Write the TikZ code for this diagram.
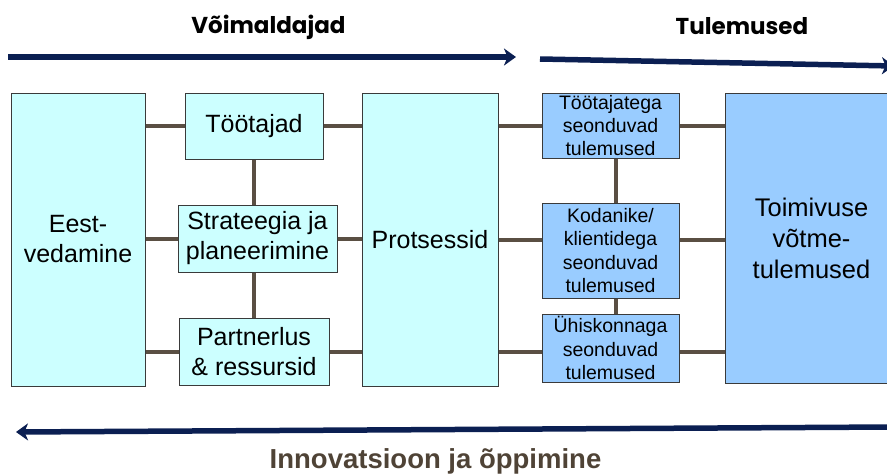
\documentclass[tikz,border=0pt]{standalone}
\usepackage{fontspec}
\setmainfont{Liberation Sans}
\newfontfamily\headfont{Poppins}
\usetikzlibrary{arrows.meta}
\definecolor{navyarrow}{HTML}{0B1F52}
\definecolor{cyanfill}{HTML}{CCFFFF}
\definecolor{bluefill}{HTML}{99CCFF}
\definecolor{boxborder}{HTML}{3A3A3A}
\definecolor{linkcol}{HTML}{5A4F43}
\definecolor{bottomtext}{HTML}{4F4336}
\tikzset{
  cbox/.style={draw=boxborder, fill=cyanfill, line width=1pt, inner sep=0pt, align=center,
    font=\fontsize{25}{30}\selectfont},
  bbox/.style={draw=boxborder, fill=bluefill, line width=1pt, inner sep=0pt, align=center,
    font=\fontsize{19.5}{23.3}\selectfont},
  link/.style={draw=linkcol, line width=4pt},
  bigarrow/.style={draw=navyarrow, line width=5.5pt, -{Stealth[length=12pt,width=17pt,inset=3.5pt]}},
  headlabel/.style={font=\headfont\bfseries\fontsize{23}{27}\selectfont, anchor=base, inner sep=0pt}
}
\begin{document}
\begin{tikzpicture}[x=1pt,y=-1pt]
\useasboundingbox (0,0) rectangle (887,474);
% boxes
\node[cbox, minimum width=134pt, minimum height=293pt] (eest) at (78,239.5) {Eest-\\vedamine};
\node[cbox, minimum width=138pt, minimum height=66pt] (toot) at (254,126) {Töötajad};
\node[cbox, minimum width=159pt, minimum height=67pt] (strat) at (257.5,238.5) {Strateegia ja\\planeerimine};
\node[cbox, minimum width=150pt, minimum height=67pt] (partner) at (254,351.5) {Partnerlus\\\& ressursid};
\node[cbox, minimum width=136pt, minimum height=293pt] (prots) at (430,239.5) {Protsessid};
\node[bbox, minimum width=137pt, minimum height=65pt] (r1) at (610.5,125.5) {Töötajatega\\seonduvad\\tulemused};
\node[bbox, minimum width=137pt, minimum height=95pt] (r2) at (610.5,250.5) {Kodanike/\\klientidega\\seonduvad\\tulemused};
\node[bbox, minimum width=137pt, minimum height=68pt] (r3) at (610.5,348) {Ühiskonnaga\\seonduvad\\tulemused};
\node[bbox, minimum width=180pt, minimum height=290pt, font=\fontsize{25.5}{31}\selectfont, text width=160pt, align=center] (toim) at (815,238) {\hspace*{-7pt}Toimivuse\\\hspace*{-7pt}võtme-\\\hspace*{-7pt}tulemused};
% connectors
\draw[link] (eest.east |- toot.west) -- (toot.west);
\draw[link] (toot.east) -- (prots.west |- toot.east);
\draw[link] (eest.east |- strat.west) -- (strat.west);
\draw[link] (strat.east) -- (prots.west |- strat.east);
\draw[link] (eest.east |- partner.west) -- (partner.west);
\draw[link] (partner.east) -- (prots.west |- partner.east);
\draw[link] (toot.south) -- (toot.south |- strat.north);
\draw[link] (strat.south -| partner.north) -- (partner.north);
\draw[link] (prots.east |- r1.west) -- (r1.west);
\draw[link] (r1.east) -- (toim.west |- r1.east);
\draw[link] (prots.east) -- (prots.east -| r2.west);
\draw[link] (r2.east |- prots.east) -- (toim.west |- prots.east);
\draw[link] (prots.east |- partner.east) -- (r3.west |- partner.east);
\draw[link] (r3.east |- partner.east) -- (toim.west |- partner.east);
\draw[link] ([xshift=5pt]r1.south) -- ([xshift=5pt]r2.north);
\draw[link] ([xshift=5pt]r2.south) -- ([xshift=5pt]r3.north);
% arrows
\coordinate (a1s) at (8,57);
\coordinate (a1e) at (516,57);
\coordinate (a2s) at (540,59);
\coordinate (a2e) at (894,66);
\coordinate (a3s) at (892,427);
\coordinate (a3e) at (16,432);
\draw[bigarrow] (a1s) -- (a1e);
\draw[bigarrow] (a2s) -- (a2e);
\draw[bigarrow] (a3s) -- (a3e);
% labels
\node[headlabel] (lab1) at (268.5,33) {Võimaldajad};
\node[headlabel] (lab2) at (742,34) {Tulemused};
\node[font=\bfseries\fontsize{27.5}{30}\selectfont, text=bottomtext, anchor=base, inner sep=0pt] (lab3) at (435.5,468) {Innovatsioon ja õppimine};
\end{tikzpicture}
\end{document}
